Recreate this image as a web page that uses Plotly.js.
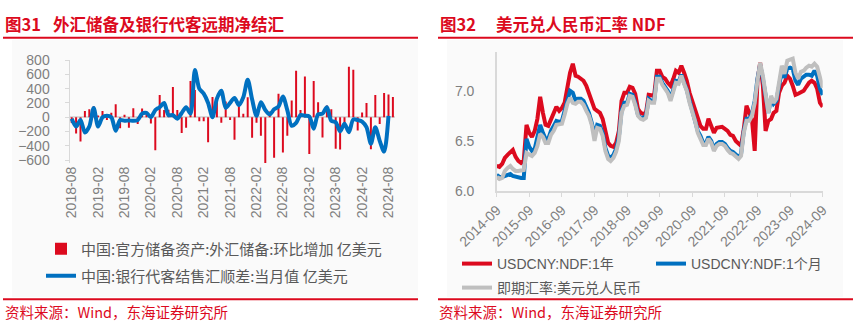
<!DOCTYPE html>
<html><head><meta charset="utf-8">
<script src="https://cdn.plot.ly/plotly-3.0.1.min.js"></script>
<style>html,body{margin:0;padding:0;background:#fff}#chart{width:856px;height:328px}</style>
</head><body><div id="chart"></div>
<script>
// ---------- Left chart data (monthly, 2018-08 .. 2024-09) ----------
const leftStartYear = 2018, leftStartMonth = 8;
const reserveChange = [
  -82,-227,-339,86,110,
  152,23,86,-40,61,182,-155,35,-148,127,-96,123,
  76,-88,-461,309,102,106,421,102,-220,-146,505,380,
  -58,-57,-350,282,236,-78,219,-38,-315,170,48,278,
  -286,-78,-258,-650,81,-565,328,-492,-259,234,651,102,
  568,-513,507,209,-283,165,113,-442,-450,-139,706,662,
  -187,65,199,-449,312,-96,340,318,282
];
const bankSettlement = [
  -20,-130,-40,-215,-130,130,-130,0,20,0,
  -190,-40,-50,-45,-50,-40,50,60,0,100,
  140,200,30,30,-20,60,140,50,660,400,
  330,200,0,260,370,130,200,270,170,280,
  525,250,20,210,100,40,110,150,290,100,
  -120,-80,30,20,10,-160,40,50,140,-50,
  -70,-200,-90,-210,-30,-40,-60,-140,-370,-140,
  -330,-480,20
];
const leftTickLabels = ['2018-08','2019-02','2019-08','2020-02','2020-08','2021-02','2021-08','2022-02','2022-08','2023-02','2023-08','2024-02','2024-08'];
const leftYTicks = [-600,-400,-200,0,200,400,600,800];

// ---------- Right chart data (monthly, 2014-09 .. 2024-09) ----------
const rightStartYear = 2014, rightStartMonth = 9;
const ndf1Y = [
  6.25,6.24,6.27,6.33,
  6.36,6.38,6.41,6.34,6.30,6.28,6.30,6.66,6.58,6.54,6.60,6.72,
  6.94,6.78,6.66,6.65,6.72,6.78,6.84,6.80,6.83,6.88,7.05,7.18,
  7.27,7.15,7.14,7.12,7.10,7.05,6.98,6.88,6.82,6.80,6.78,6.72,
  6.58,6.48,6.45,6.44,6.48,6.60,6.90,6.98,6.98,7.04,7.03,6.97,
  6.82,6.78,6.77,6.78,6.96,6.95,6.95,7.20,7.20,7.14,7.12,7.08,
  7.05,7.12,7.20,7.18,7.25,7.18,7.10,6.98,6.90,6.80,6.72,6.65,
  6.62,6.62,6.72,6.65,6.58,6.63,6.64,6.64,6.62,6.60,6.56,6.55,
  6.50,6.47,6.45,6.62,6.85,6.78,6.72,6.40,7.10,7.28,7.05,6.60,
  6.70,6.72,6.78,6.80,6.98,7.05,7.08,7.15,7.12,7.05,6.96,6.97,
  6.99,7.00,7.04,7.08,7.10,7.08,7.02,6.88,6.84
];
const ndf1M = [
  6.16,6.14,6.14,6.15,
  6.16,6.17,6.15,6.14,6.14,6.13,6.13,6.52,6.44,6.40,6.42,6.52,
  6.66,6.58,6.52,6.52,6.60,6.65,6.70,6.69,6.70,6.80,6.92,7.00,
  6.98,6.90,6.92,6.92,6.90,6.84,6.78,6.68,6.56,6.66,6.65,6.58,
  6.43,6.35,6.33,6.36,6.42,6.54,6.80,6.88,6.88,6.97,6.96,6.88,
  6.76,6.73,6.73,6.75,6.92,6.90,6.90,7.14,7.14,7.08,7.04,7.00,
  6.92,7.02,7.10,7.09,7.16,7.08,7.01,6.90,6.81,6.72,6.60,6.55,
  6.48,6.48,6.54,6.50,6.42,6.47,6.49,6.49,6.47,6.43,6.40,6.39,
  6.37,6.34,6.37,6.60,6.72,6.72,6.77,6.90,7.12,7.26,7.12,6.95,
  6.78,6.93,6.87,6.90,7.06,7.20,7.13,7.22,7.23,7.22,7.10,7.06,
  7.12,7.14,7.16,7.16,7.15,7.20,7.15,7.02,6.96
];
const spotRate = [
  6.14,6.12,6.13,6.20,
  6.23,6.25,6.22,6.20,6.20,6.21,6.21,6.38,6.37,6.35,6.38,6.45,
  6.57,6.54,6.48,6.48,6.56,6.60,6.66,6.66,6.67,6.76,6.87,6.93,
  6.88,6.87,6.89,6.89,6.86,6.80,6.75,6.66,6.50,6.63,6.62,6.55,
  6.40,6.32,6.30,6.33,6.39,6.50,6.78,6.85,6.86,6.95,6.94,6.86,
  6.75,6.72,6.71,6.73,6.90,6.88,6.88,7.12,7.12,7.06,7.02,6.98,
  6.90,7.00,7.08,7.07,7.15,7.07,7.00,6.88,6.80,6.70,6.58,6.52,
  6.46,6.46,6.52,6.48,6.40,6.45,6.47,6.47,6.45,6.41,6.38,6.37,
  6.35,6.32,6.35,6.58,6.70,6.70,6.75,6.88,7.10,7.28,7.15,6.96,
  6.78,6.95,6.88,6.92,7.08,7.25,7.17,7.30,7.31,7.32,7.18,7.12,
  7.19,7.20,7.23,7.25,7.24,7.27,7.24,7.15,7.03
];
const rightYTicks = [6.0, 6.5, 7.0];

// ---------- helpers ----------
function monthLabels(y0, m0, n) {
  const out = [];
  for (let k = 0; k < n; k++) {
    const t = (m0 - 1) + k;
    const y = y0 + Math.floor(t / 12), m = t % 12 + 1;
    out.push(y + '-' + String(m).padStart(2, '0'));
  }
  return out;
}
const W = 856, H = 328;
const px = x => x / W;
const py = y => 1 - y / H;

const leftCats = monthLabels(leftStartYear, leftStartMonth, reserveChange.length);
const rightDates = monthLabels(rightStartYear, rightStartMonth, spotRate.length).map(s => s + '-01');

const RED = '#dc0a1e', BLUE = '#0070c0', GREY = '#bfbfbf';
const FONT = 'Liberation Sans, Arial, Noto Sans CJK SC, sans-serif';
const CJK = 'Noto Sans CJK SC, Liberation Sans, sans-serif';

const traces = [
  {type: 'bar', x: leftCats, y: reserveChange, xaxis: 'x', yaxis: 'y',
   name: '中国:官方储备资产:外汇储备:环比增加 亿美元', marker: {color: RED}, width: 0.45,
   legend: 'legend'},
  {type: 'scatter', mode: 'lines', x: leftCats.slice(0, bankSettlement.length), y: bankSettlement,
   xaxis: 'x', yaxis: 'y', name: '中国:银行代客结售汇顺差:当月值 亿美元',
   line: {color: BLUE, width: 4, shape: 'spline', smoothing: 0.8}, legend: 'legend2'},
  {type: 'scatter', mode: 'lines', x: rightDates, y: ndf1Y, xaxis: 'x2', yaxis: 'y2',
   name: 'USDCNY:NDF:1年', line: {color: RED, width: 4}, legend: 'legend3'},
  {type: 'scatter', mode: 'lines', x: rightDates, y: ndf1M, xaxis: 'x2', yaxis: 'y2',
   name: 'USDCNY:NDF:1个月', line: {color: BLUE, width: 4}, legend: 'legend3'},
  {type: 'scatter', mode: 'lines', x: rightDates, y: spotRate, xaxis: 'x2', yaxis: 'y2',
   name: '即期汇率:美元兑人民币', line: {color: GREY, width: 4}, legend: 'legend4'}
];

const tickFont = {family: FONT, size: 14, color: '#7f7f7f'};
const legFontL = {family: CJK, size: 15, color: '#595959'};
const legFontR = {family: FONT, size: 14, color: '#595959'};

function legendAt(x, y, font, extra) {
  return Object.assign({x: px(x), y: py(y), xanchor: 'left', yanchor: 'top',
    bgcolor: 'rgba(0,0,0,0)', borderwidth: 0, font: font}, extra || {});
}

const layout = {
  width: W, height: H,
  margin: {l: 0, r: 0, t: 0, b: 0, autoexpand: false},
  paper_bgcolor: '#ffffff', plot_bgcolor: 'rgba(0,0,0,0)',
  showlegend: true, bargap: 0.55,
  xaxis: {domain: [px(69.5), px(395.1)], type: 'category', range: [-0.5, leftCats.length - 0.5],
    tickmode: 'array', tickvals: leftTickLabels, ticktext: leftTickLabels, tickangle: -90,
    tickfont: tickFont, showline: false, showgrid: false, zeroline: false, ticks: '',
    anchor: 'y', automargin: false},
  yaxis: {domain: [py(163), py(60)], range: [-640, 800], tickmode: 'array', tickvals: leftYTicks,
    tickfont: tickFont, showgrid: false, zeroline: true, zerolinecolor: '#d9d9d9', zerolinewidth: 1.5,
    showline: true, linecolor: '#d9d9d9', linewidth: 1, ticks: 'outside', ticklen: 4, tickcolor: '#d9d9d9',
    ticklabelstandoff: 12, anchor: 'x', automargin: false},
  xaxis2: {domain: [px(496.7), px(822.7)], type: 'date', range: ['2014-09-01', '2024-09-01'],
    tick0: '2014-09-01', dtick: 'M12', tickformat: '%Y-%m', tickangle: -45, tickfont: tickFont,
    showline: true, linecolor: '#d9d9d9', linewidth: 1.5, ticks: 'outside', ticklen: 4, tickcolor: '#d9d9d9',
    showgrid: false, zeroline: false, anchor: 'y2', automargin: false},
  yaxis2: {domain: [py(191), py(51.7)], range: [6.0, 7.39], tickmode: 'array', tickvals: rightYTicks,
    ticktext: rightYTicks.map(v => v.toFixed(1)), tickfont: tickFont, showgrid: false, zeroline: false,
    showline: true, linecolor: '#d9d9d9', linewidth: 1.5, ticks: '', ticklabelstandoff: 18,
    anchor: 'x2', automargin: false},
  legend: legendAt(41, 232.5, legFontL),
  legend2: legendAt(41, 259.5, legFontL),
  legend3: legendAt(457, 248, legFontR, {orientation: 'h', entrywidth: 149, entrywidthmode: 'pixels'}),
  legend4: legendAt(457, 272, legFontR, {orientation: 'h'}),
  shapes: [
    {type: 'rect', xref: 'paper', yref: 'paper', x0: px(12), x1: px(418), y0: py(297), y1: py(40),
     fillcolor: '#fafafa', line: {width: 0}, layer: 'below'},
    {type: 'rect', xref: 'paper', yref: 'paper', x0: px(447), x1: px(843), y0: py(297), y1: py(40),
     fillcolor: '#fafafa', line: {width: 0}, layer: 'below'},
    {type: 'line', xref: 'paper', yref: 'paper', x0: px(3), x1: px(418), y0: py(37.7), y1: py(37.7),
     line: {color: RED, width: 2}},
    {type: 'line', xref: 'paper', yref: 'paper', x0: px(438), x1: px(853), y0: py(37.7), y1: py(37.7),
     line: {color: RED, width: 2}},
    {type: 'line', xref: 'paper', yref: 'paper', x0: px(3), x1: px(418), y0: py(299.3), y1: py(299.3),
     line: {color: RED, width: 2}},
    {type: 'line', xref: 'paper', yref: 'paper', x0: px(438), x1: px(853), y0: py(299.3), y1: py(299.3),
     line: {color: RED, width: 2}}
  ],
  annotations: [
    {text: '<b>图31</b>', x: px(3), y: py(24), xref: 'paper', yref: 'paper', xanchor: 'left', yanchor: 'middle',
     showarrow: false, font: {family: CJK, size: 16.5, color: RED}},
    {text: '<b>外汇储备及银行代客远期净结汇</b>', x: px(51), y: py(24), xref: 'paper', yref: 'paper',
     xanchor: 'left', yanchor: 'middle', showarrow: false, font: {family: CJK, size: 16.5, color: RED}},
    {text: '<b>图32</b>', x: px(438), y: py(24), xref: 'paper', yref: 'paper', xanchor: 'left', yanchor: 'middle',
     showarrow: false, font: {family: CJK, size: 16.5, color: RED}},
    {text: '<b>美元兑人民币汇率 NDF</b>', x: px(494), y: py(24), xref: 'paper', yref: 'paper',
     xanchor: 'left', yanchor: 'middle', showarrow: false, font: {family: CJK, size: 16.5, color: RED}},
    {text: '资料来源：Wind，东海证券研究所', x: px(3), y: py(311.5), xref: 'paper', yref: 'paper',
     xanchor: 'left', yanchor: 'middle', showarrow: false, font: {family: CJK, size: 14.5, color: RED}},
    {text: '资料来源：Wind，东海证券研究所', x: px(437), y: py(311.5), xref: 'paper', yref: 'paper',
     xanchor: 'left', yanchor: 'middle', showarrow: false, font: {family: CJK, size: 14.5, color: RED}}
  ]
};

Plotly.newPlot('chart', traces, layout, {staticPlot: true, displayModeBar: false});
</script>
</body></html>
